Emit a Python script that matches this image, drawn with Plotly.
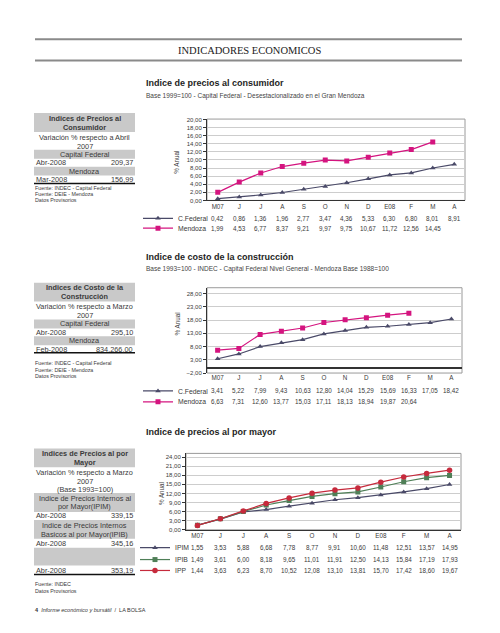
import plotly.graph_objects as go

W, H = 500, 633
def px(x): return x / W
def py(y): return 1 - y / H

SANS = "Liberation Sans, Arial, sans-serif"
SERIF = "Liberation Serif, serif"

months = ["M07", "J", "J", "A", "S", "O", "N", "D", "E08", "F", "M", "A"]

# Indice de precios al consumidor
ipc_cfed = [0.42, 0.86, 1.36, 1.96, 2.77, 3.47, 4.36, 5.33, 6.30, 6.80, 8.01, 8.91]
ipc_mza = [1.99, 4.53, 6.77, 8.37, 9.21, 9.97, 9.75, 10.67, 11.72, 12.56, 14.45]

# Indice de costo de la construccion
icc_cfed = [3.41, 5.22, 7.99, 9.43, 10.63, 12.80, 14.04, 15.29, 15.69, 16.33, 17.05, 18.42]
icc_mza = [6.63, 7.31, 12.60, 13.77, 15.03, 17.11, 18.13, 18.94, 19.87, 20.64]

# Indice de precios al por mayor
ipm_ipim = [1.55, 3.53, 5.88, 6.68, 7.78, 8.77, 9.91, 10.60, 11.48, 12.51, 13.57, 14.95]
ipm_ipib = [1.49, 3.61, 6.00, 8.18, 9.65, 11.01, 11.91, 12.50, 14.13, 15.84, 17.19, 17.93]
ipm_ipp = [1.44, 3.63, 6.23, 8.70, 10.52, 12.08, 13.10, 13.81, 15.70, 17.42, 18.60, 19.67]

SLATE = "#4a4a68"
MAGENTA = "#d4147f"
GREEN = "#4f7f57"
RED = "#c62a3c"
TXT = "#3a3a3a"
GRAYBG = "#c9c9c9"
TS = 7.3  # table font size

def fmt(v):
    return f"{v:.2f}".replace(".", ",")

fig = go.Figure()

# ---------- traces ----------
charts = [
    ("x", "y", [("C.Federal", ipc_cfed, SLATE, "triangle-up", 5, "legend", 218),
                ("Mendoza", ipc_mza, MAGENTA, "square", 5, "legend2", 228)], 138),
    ("x2", "y2", [("C.Federal", icc_cfed, SLATE, "triangle-up", 5, "legend3", 392),
                  ("Mendoza", icc_mza, MAGENTA, "square", 5, "legend4", 403)], 138),
    ("x3", "y3", [("IPIM", ipm_ipim, SLATE, "triangle-up", 5, "legend5", 550),
                  ("IPIB", ipm_ipib, GREEN, "square", 5, "legend6", 562),
                  ("IPP", ipm_ipp, RED, "circle", 5.5, "legend7", 573)], 135),
]

legends = {}
for xa, ya, series, lx in charts:
    for name, vals, col, sym, ms, lg, rowy in series:
        fig.add_trace(go.Scatter(
            x=list(range(len(vals))), y=vals, name=name, mode="lines+markers",
            line=dict(color=col, width=1.2),
            marker=dict(symbol=sym, size=ms, color=col),
            xaxis=xa, yaxis=ya, legend=lg, showlegend=True, hoverinfo="skip"))
        legends[lg] = dict(x=px(lx), y=py(rowy), xanchor="left", yanchor="middle",
                           bgcolor="rgba(0,0,0,0)", borderwidth=0, itemwidth=30,
                           font=dict(size=6.8, color=TXT, family=SANS),
                           itemclick=False, itemdoubleclick=False)
        # data table row values
        for i, v in enumerate(vals):
            fig.add_annotation(x=i, xref=xa, y=py(rowy), yref="paper", text=fmt(v),
                               showarrow=False, xanchor="center", yanchor="middle",
                               font=dict(size=6.3, color=TXT, family=SANS))

# ---------- axes ----------
xcommon = dict(range=[-0.5, 11.5], tickvals=list(range(12)), ticktext=months,
               showgrid=False, zeroline=False, ticks="",
               tickfont=dict(size=6.3, color=TXT, family=SANS), fixedrange=True)
ycommon = dict(tickformat=".2f", gridcolor="#cdcdcd", gridwidth=1, ticks="outside",
               ticklen=3, tickcolor="#333", showline=True, linecolor="#333",
               linewidth=1, tickfont=dict(size=6, color=TXT, family=SANS),
               fixedrange=True)

layout = dict(
    width=W, height=H, margin=dict(l=0, r=0, t=0, b=0, pad=0),
    paper_bgcolor="white", plot_bgcolor="white", separators=",.",
    font=dict(family=SANS, color=TXT), showlegend=True,
    xaxis=dict(domain=[px(207), px(465)], anchor="y", showline=True,
               linecolor="#333", linewidth=1, **xcommon),
    yaxis=dict(domain=[py(200), py(118)], anchor="x", range=[0, 20.1],
               tick0=0, dtick=2, zeroline=False, **ycommon),
    xaxis2=dict(domain=[px(207), px(462)], anchor="y2", showline=False, **xcommon),
    yaxis2=dict(domain=[py(374), py(288)], anchor="x2", range=[-2, 30.25],
                tick0=-2, dtick=5, zeroline=True, zerolinecolor="#333",
                zerolinewidth=1.5, **ycommon),
    xaxis3=dict(domain=[px(186), px(461)], anchor="y3", showline=True,
                linecolor="#333", linewidth=1, **xcommon),
    yaxis3=dict(domain=[py(532), py(455)], anchor="x3", range=[0, 25.2],
                tick0=0, dtick=3, zeroline=False, **ycommon),
)
layout.update(legends)
fig.update_layout(**layout)

shapes = []
# gray frames of plot areas
for xa, ya in [("x", "y"), ("x2", "y2"), ("x3", "y3")]:
    shapes.append(dict(type="rect", xref=f"{xa} domain", yref=f"{ya} domain",
                       x0=0, x1=1, y0=0, y1=1, line=dict(color="#9a9a9a", width=1),
                       layer="below"))
# header lines
for yy in (37.5, 59):
    shapes.append(dict(type="line", xref="paper", yref="paper", x0=px(35), x1=px(462),
                       y0=py(yy), y1=py(yy), line=dict(color="#8a8a8a", width=2)))

# table gray blocks
def grayrect(y0, y1, x0=34, x1=135):
    shapes.append(dict(type="rect", xref="paper", yref="paper", x0=px(x0), x1=px(x1),
                       y0=py(y1), y1=py(y0), fillcolor=GRAYBG, line=dict(width=0),
                       layer="below"))

def blackline(y, x0=34, x1=135):
    shapes.append(dict(type="line", xref="paper", yref="paper", x0=px(x0), x1=px(x1),
                       y0=py(y), y1=py(y), line=dict(color="#111", width=1.5)))

# table 1
grayrect(112, 131); grayrect(149, 158); grayrect(166, 175); blackline(183)
# table 2
grayrect(283, 302); grayrect(320, 329); grayrect(337, 346); blackline(353.5)
# table 3
grayrect(450, 469); grayrect(495, 514); grayrect(522, 541); grayrect(550, 568)
blackline(577)

fig.update_layout(shapes=shapes)

def txt(x, y, s, size=TS, anchor="left", color=TXT, family=SANS, angle=0):
    fig.add_annotation(x=px(x), y=py(y), xref="paper", yref="paper", text=s,
                       showarrow=False, xanchor=anchor, yanchor="middle",
                       textangle=angle, borderpad=0,
                       font=dict(size=size, color=color, family=family))

def ctr(y, s):
    txt(84.5, y, s, anchor="center")

# header
txt(249, 48.5, "INDICADORES ECONOMICOS", size=10.5, anchor="center", color="#1a1a1a",
    family=SERIF)

# chart titles
txt(145, 82, "<b>Indice de precios al consumidor</b>", size=9, color="#1e1e1e")
txt(145, 95, "Base 1999=100 - Capital Federal - Desestacionalizado en el Gran Mendoza",
    size=6.5, color="#444")
txt(145, 257, "<b>Indice de costo de la construcción</b>", size=9, color="#1e1e1e")
txt(145, 269.5, "Base 1993=100 - INDEC - Capital Federal Nivel General - Mendoza Base 1988=100",
    size=6.5, color="#444")
txt(145, 433, "<b>Indice de precios al por mayor</b>", size=9, color="#1e1e1e")

# y-axis titles
txt(177, 162, "% Anual", size=6.3, anchor="center", angle=-90)
txt(177, 325, "% Anual", size=6.3, anchor="center", angle=-90)
txt(161, 496, "% Anual", size=6.3, anchor="center", angle=-90)

# table 1 texts
ctr(117, "<b>Indices de Precios al</b>")
ctr(126.5, "<b>Consumidor</b>")
ctr(137, "Variación % respecto a Abril")
ctr(146, "2007")
ctr(153.5, "Capital Federal")
txt(35, 162, "Abr-2008"); txt(134, 162, "209,37", anchor="right")
ctr(170.5, "Mendoza")
txt(35, 179, "Mar-2008"); txt(134, 179, "156,99", anchor="right")
txt(34, 187, "Fuente: INDEC - Capital Federal", size=5.3)
txt(34, 193.5, "Fuente: DEIE - Mendoza", size=5.3)
txt(34, 200, "Datos Provisorios", size=5.3)

# table 2 texts
ctr(288, "<b>Indices de Costo de la</b>")
ctr(297, "<b>Construcción</b>")
ctr(307, "Variación % respecto a Marzo")
ctr(316, "2007")
ctr(324.5, "Capital Federal")
txt(35, 333, "Abr-2008"); txt(134, 333, "295,10", anchor="right")
ctr(341.5, "Mendoza")
txt(35, 350, "Feb-2008"); txt(134, 350, "834.266,00", anchor="right")
txt(34, 364, "Fuente: INDEC - Capital Federal", size=5.3)
txt(34, 370.5, "Fuente: DEIE - Mendoza", size=5.3)
txt(34, 377, "Datos Provisorios", size=5.3)

# table 3 texts
ctr(455.5, "<b>Indices de Precios al por</b>")
ctr(464.5, "<b>Mayor</b>")
ctr(474.5, "Variación % respecto a Marzo")
ctr(483, "2007")
ctr(491.5, "(Base 1993=100)")
ctr(500.5, "Indice de Precios Internos al")
ctr(509, "por Mayor(IPIM)")
txt(35, 518, "Abr-2008"); txt(134, 518, "339,15", anchor="right")
ctr(528, "Indice de Precios Internos")
ctr(537, "Basicos al por Mayor(IPIB)")
txt(35, 545.5, "Abr-2008"); txt(134, 545.5, "345,16", anchor="right")
txt(35, 573, "Abr-2008"); txt(134, 573, "353,19", anchor="right")
txt(34, 587, "Fuente: INDEC", size=5.3)
txt(34, 593.5, "Datos Provisorios", size=5.3)

# footer
txt(34, 613, "<b>4</b>  <i>Informe económico y bursátil</i>  /  LA BOLSA", size=5.5,
    color="#333")

fig.write_html("out.html", config={"displayModeBar": False},
               post_script="document.body.style.margin='0';document.body.style.overflow='hidden';")
